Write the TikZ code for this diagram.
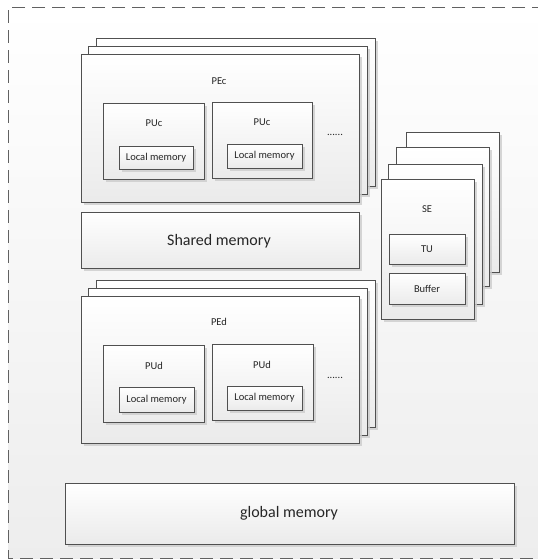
\documentclass[tikz,border=0pt]{standalone}
\usepackage{fontspec}
\setmainfont{Carlito}
\usetikzlibrary{shadows,shadings}
\definecolor{edge}{HTML}{505050}
\definecolor{ink}{HTML}{262626}
\tikzset{
  card/.style={draw=edge, line width=0.9pt, top color=white, bottom color=black!8,
    drop shadow={shadow xshift=2.5pt, shadow yshift=-2.5pt, fill=black!20, opacity=0.8},
    inner sep=0pt, outer sep=0pt},
  small/.style={text=ink, font=\fontsize{10.5}{12}\selectfont, inner sep=0pt},
  big/.style={text=ink, font=\fontsize{16}{18}\selectfont, inner sep=0pt},
  frame/.style={draw=black!62, line width=1pt, dash pattern=on 13pt off 7pt}
}
\begin{document}
\begin{tikzpicture}[x=1pt, y=-1pt]
\useasboundingbox (0,0) rectangle (538,560);
% background of the enclosing region
\fill[top color=white, bottom color=black!7] (8,7) rectangle (538,558);
\draw[frame] (545,7) -- (8,7) -- (8,558) -- (545,558);

% ---- PEc stack ----
\node[card, minimum width=279pt, minimum height=148pt] (pec3) at (235.5,112) {};
\node[card, minimum width=279pt, minimum height=148pt] (pec2) at (227.5,120) {};
\node[card, minimum width=278pt, minimum height=148pt] (pec)  at (220,128) {};
\node[small] (peclabel) at (219,81) {PEc};
\node[card, minimum width=101pt, minimum height=76pt] (puc1) at (153.5,141) {};
\node[small] (puc1label) at (154,123) {PUc};
\node[card, minimum width=74pt, minimum height=23pt] (lmc1) at (156,157.5) {};
\node[small] (lmc1label) at (156,158) {Local memory};
\node[card, minimum width=100pt, minimum height=76pt] (puc2) at (262,140) {};
\node[small] (puc2label) at (262,122) {PUc};
\node[card, minimum width=75pt, minimum height=24pt] (lmc2) at (264.5,156) {};
\node[small] (lmc2label) at (264.5,156) {Local memory};
\node[small] (decdots) at (335,135) {......};

% ---- Shared memory ----
\node[card, minimum width=278pt, minimum height=56pt] (shm) at (220,240) {};
\node[big] (shmlabel) at (219,241) {Shared memory};

% ---- PEd stack ----
\node[card, minimum width=279pt, minimum height=147pt] (ped3) at (235.5,353.5) {};
\node[card, minimum width=279pt, minimum height=147pt] (ped2) at (227.5,361.5) {};
\node[card, minimum width=278pt, minimum height=147pt] (ped)  at (220,369.5) {};
\node[small] (pedlabel) at (219,322) {PEd};
\node[card, minimum width=101pt, minimum height=77pt] (pud1) at (153.5,383.5) {};
\node[small] (pud1label) at (154,366) {PUd};
\node[card, minimum width=75pt, minimum height=25pt] (lmd1) at (156.5,399.5) {};
\node[small] (lmd1label) at (156.5,399.5) {Local memory};
\node[card, minimum width=101pt, minimum height=76pt] (pud2) at (262.5,382) {};
\node[small] (pud2label) at (262,365) {PUd};
\node[card, minimum width=75pt, minimum height=24pt] (lmd2) at (264.5,398) {};
\node[small] (lmd2label) at (264.5,398) {Local memory};
\node[small] (peddots) at (335,378) {......};

% ---- SE stack ----
\node[card, minimum width=93pt, minimum height=140pt] (se4) at (452.5,202) {};
\node[card, minimum width=93pt, minimum height=139pt] (se3) at (442.5,216.5) {};
\node[card, minimum width=94pt, minimum height=140pt] (se2) at (435,234) {};
\node[card, minimum width=93pt, minimum height=140pt] (se)  at (427.5,249) {};
\node[small] (selabel) at (427,209) {SE};
\node[card, minimum width=76pt, minimum height=30pt] (tu) at (427,249) {};
\node[small] (tulabel) at (427,249) {TU};
\node[card, minimum width=76pt, minimum height=31pt] (buf) at (427,288.5) {};
\node[small] (buflabel) at (427,289) {Buffer};

% ---- global memory ----
\node[card, minimum width=449pt, minimum height=61pt] (gm) at (289.5,513.5) {};
\node[big] (gmlabel) at (289,513) {global memory};
\end{tikzpicture}
\end{document}
